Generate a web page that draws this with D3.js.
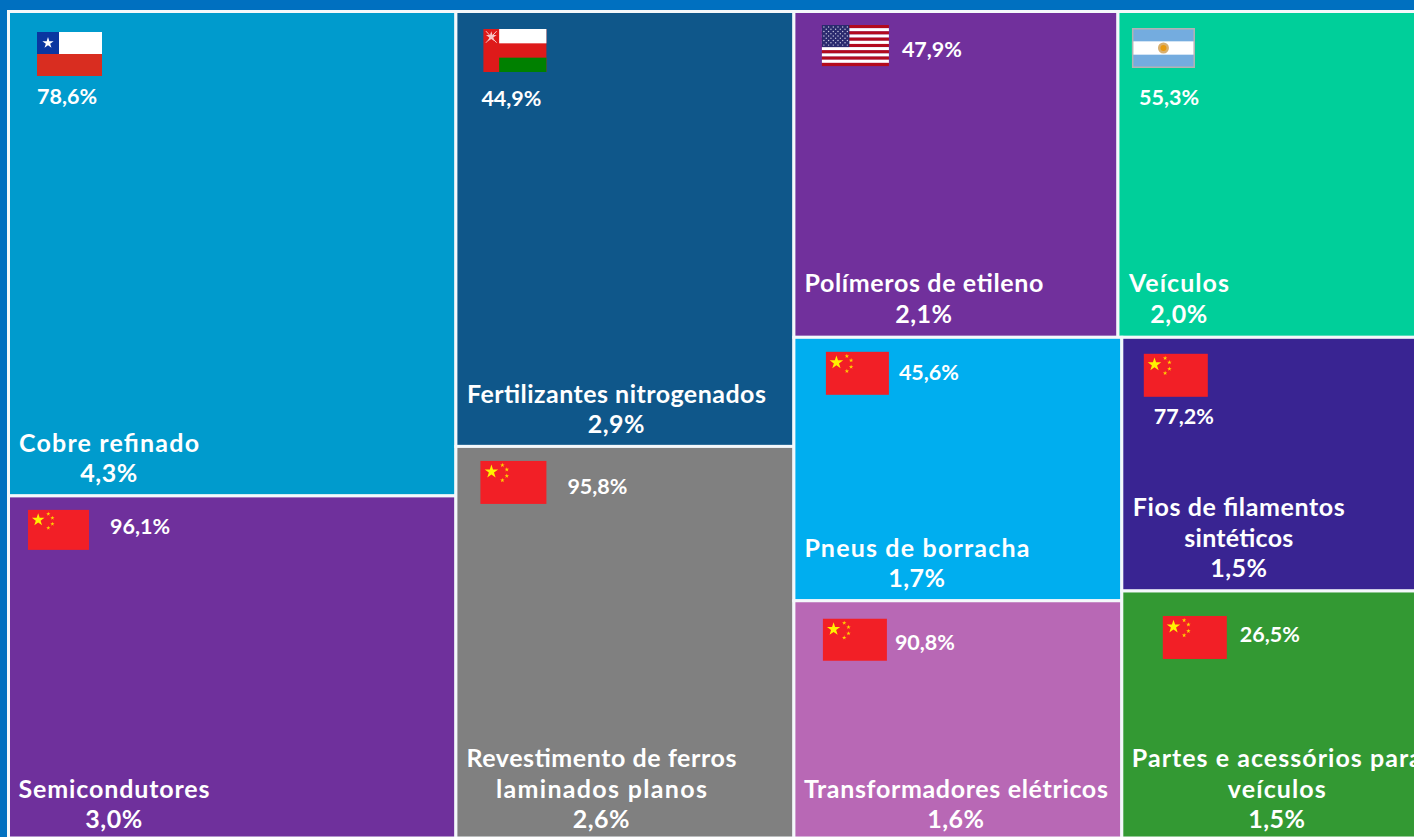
<!DOCTYPE html>
<html><head><meta charset="utf-8">
<script src="https://cdn.jsdelivr.net/npm/d3@7"></script>
<style>html,body{margin:0;padding:0;background:#0070C0;overflow:hidden}svg{display:block}
text{font-family:Lato,sans-serif;font-weight:700;fill:#fff}</style></head><body>
<div id="chart"></div>
<script>
// Data
const products = ["Cobre refinado","Semicondutores","Fertilizantes nitrogenados","Revestimento de ferros laminados planos","Polímeros de etileno","Veículos","Pneus de borracha","Transformadores elétricos","Fios de filamentos sintéticos","Partes e acessórios para veículos"];
const shareLabels = ["4,3%","3,0%","2,9%","2,6%","2,1%","2,0%","1,7%","1,6%","1,5%","1,5%"];
const tileValues = [4.29,3.03,2.91,2.62,2.09,1.99,1.71,1.54,1.53,1.49];
const topOrigin = ["Chile","China","Omã","China","EUA","Argentina","China","China","China","China"];
const originShare = ["78,6%","96,1%","44,9%","95,8%","47,9%","55,3%","45,6%","90,8%","77,2%","26,5%"];

// Style and layout
const colors = ["#009BCD","#6F309C","#0F578A","#808080","#71309C","#00CF9A","#00AEEF","#B868B5","#392492","#339933"];
const labelLines = [["Cobre refinado"],["Semicondutores"],["Fertilizantes nitrogenados"],["Revestimento de ferros","laminados planos"],["Polímeros de etileno"],["Veículos"],["Pneus de borracha"],["Transformadores elétricos"],["Fios de filamentos","sintéticos"],["Partes e acessórios para","veículos"]];
const lineWidths = [[180],[191],[299],[270,211],[239],[100],[225],[304],[212,109],[290,98]];
// offsets are relative to each tile's top-left corner
const flagBox = [[28.5,20.5,65,44],[19.5,14,61,40],[27.5,17.5,63,43],[24.5,14.5,66,43],[28,13.5,67,41],[14,16.5,63,40],[32,14.5,63,43],[29,18,64,42],[22,16.5,64,43],[41,25,64,43]];
const pctPos = [[28.5,92],[101.5,38.5],[25.5,94],[111.5,48],[108,45.5],[21,93],[105,43],[101,49.5],[32,87],[118,51.5]];
const labelCx = [100.5,105.5,160.5,145.5,130,61,123,162,117,155];
const labelLastY = [470.5,332.5,421.5,382,311,311,250,227.5,240,237.5];
const lineStep = 30.5;

const W = 1414, H = 837;
const svg = d3.select("#chart").append("svg").attr("width",W).attr("height",H);
svg.append("rect").attr("width",W).attr("height",H).attr("fill","#0070C0");

const leaf = i => ({i, value: tileValues[i]});
const tree = {children:[
  {children:[leaf(0),leaf(1)]},
  {children:[leaf(2),leaf(3)]},
  {children:[
    {children:[leaf(4),leaf(5)]},
    {children:[{children:[leaf(6),leaf(7)]},{children:[leaf(8),leaf(9)]}]}
  ]}
]};
const root = d3.hierarchy(tree).sum(d => d.value || 0);
const tile = (node,x0,y0,x1,y1) => {
  const f = node.depth===0 ? d3.treemapDice
    : node.depth===1 ? d3.treemapSlice
    : node.depth===2 ? d3.treemapDice
    : d3.treemapSlice;
  f(node,x0,y0,x1,y1);
};
d3.treemap().tile(tile).size([1418,826.5]).round(false)(root);
const ox = 8.5, oy = 11.5;

const star = (cx,cy,r,rot=-Math.PI/2) => d3.range(10).map(k=>{
  const a = rot + k*Math.PI/5, q = k%2 ? r*0.382 : r;
  return [cx+q*Math.cos(a), cy+q*Math.sin(a)];
}).join(" ");

const drawFlag = {
  China(g,w,h){
    g.append("rect").attr("width",w).attr("height",h).attr("fill","#F21F26");
    g.append("polygon").attr("points",star(w*.167,h*.25,h*.165)).attr("fill","#FFF200");
    [[.333,.1],[.4,.2],[.4,.35],[.333,.45]].forEach(p=>
      g.append("polygon").attr("points",star(w*p[0],h*p[1],h*.055)).attr("fill","#FFD500"));
  },
  Chile(g,w,h){
    g.append("rect").attr("width",w).attr("height",h/2).attr("fill","#fff");
    g.append("rect").attr("y",h/2).attr("width",w).attr("height",h/2).attr("fill","#D92D20");
    g.append("rect").attr("width",h/2).attr("height",h/2).attr("fill","#0A36A0");
    g.append("polygon").attr("points",star(h/4,h/4,h*.135)).attr("fill","#fff");
  },
  "Omã"(g,w,h){
    g.append("rect").attr("width",w).attr("height",h).attr("fill","#DE1A1A");
    g.append("rect").attr("x",w/4).attr("width",w*.75).attr("height",h/3).attr("fill","#fff");
    g.append("rect").attr("x",w/4).attr("y",h*2/3).attr("width",w*.75).attr("height",h/3).attr("fill","#008000");
    g.append("polygon").attr("points",star(w*.125,h*.18,h*.13)).attr("fill","#F6C6C6");
    g.append("path").attr("d",`M${w*.04},${h*.05}L${w*.21},${h*.32}M${w*.21},${h*.05}L${w*.04},${h*.32}`).attr("stroke","#F6C6C6").attr("stroke-width",1);
  },
  EUA(g,w,h){
    const y = d3.scaleBand().domain(d3.range(13)).range([0,h]);
    g.selectAll(".st").data(d3.range(13)).join("rect").attr("y",d=>y(d)).attr("width",w).attr("height",y.bandwidth()+.1).attr("fill",d=>d%2?"#fff":"#B30A1E");
    const cw = w*.41, ch = y.bandwidth()*7;
    g.append("rect").attr("width",cw).attr("height",ch).attr("fill","#2A2A6E");
    const sx = d3.scalePoint().domain(d3.range(11)).range([2,cw-2]);
    const sy = d3.scalePoint().domain(d3.range(9)).range([2,ch-2]);
    d3.range(9).forEach(r=>d3.range(11).filter(c=>(c+r)%2===0).forEach(c=>
      g.append("circle").attr("cx",sx(c)).attr("cy",sy(r)).attr("r",.7).attr("fill","#C9C9E0")));
  },
  Argentina(g,w,h){
    g.append("rect").attr("width",w).attr("height",h).attr("fill","#74ACDF");
    g.append("rect").attr("y",h/3).attr("width",w).attr("height",h/3).attr("fill","#fff");
    g.append("rect").attr("x",.75).attr("y",.75).attr("width",w-1.5).attr("height",h-1.5).attr("fill","none").attr("stroke","#B3B3B3").attr("stroke-width",1.5);
    g.append("circle").attr("cx",w/2).attr("cy",h/2).attr("r",5.5).attr("fill","#D9B070");
    g.append("circle").attr("cx",w/2).attr("cy",h/2).attr("r",3).attr("fill","#E89A10");
  }
};

const leaves = root.leaves();
svg.selectAll("rect.cell").data(leaves).join("rect").attr("class","cell")
  .attr("x",d=>ox+d.x0).attr("y",d=>oy+d.y0).attr("width",d=>d.x1-d.x0).attr("height",d=>d.y1-d.y0)
  .attr("fill",d=>colors[d.data.i]).attr("stroke","#F4F8FB").attr("stroke-width",3);

const cells = svg.selectAll("g.cellg").data(leaves).join("g").attr("class","cellg")
  .attr("transform",d=>`translate(${ox+d.x0},${oy+d.y0})`);
cells.each(function(d){
  const i = d.data.i, g = d3.select(this), b = flagBox[i];
  drawFlag[topOrigin[i]](g.append("g").attr("transform",`translate(${b[0]},${b[1]})`),b[2],b[3]);
  g.append("text").attr("x",pctPos[i][0]).attr("y",pctPos[i][1]).attr("font-size",21.5).text(originShare[i]);
  const lines = labelLines[i].concat(shareLabels[i]);
  lines.forEach((t,k)=>{
    const tx = g.append("text").attr("x",labelCx[i]).attr("y",labelLastY[i]-(lines.length-1-k)*lineStep)
      .attr("text-anchor","middle").attr("font-size",25).text(t);
    const target = lineWidths[i][k];
    if (target) tx.attr("textLength",target).attr("lengthAdjust","spacing");
    else tx.attr("letter-spacing",.5);
  });
});
</script></body></html>
